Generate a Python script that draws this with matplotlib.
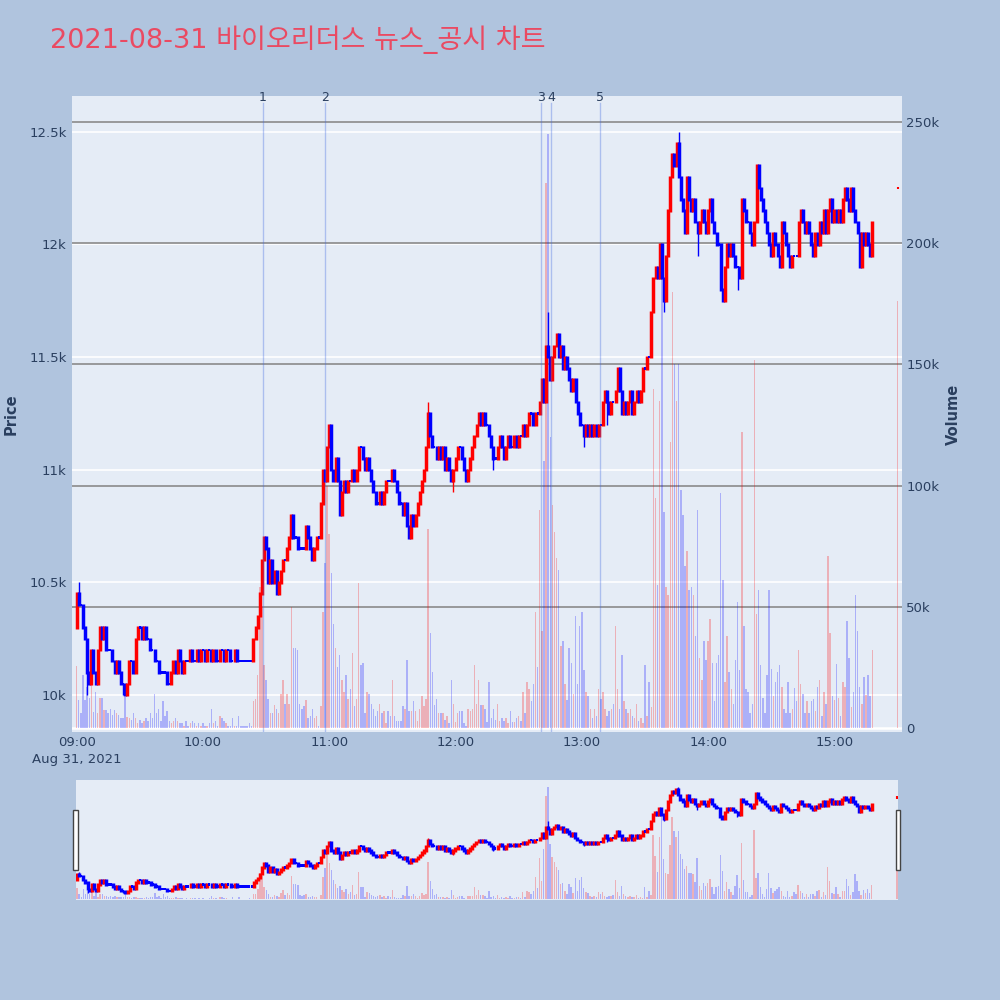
import numpy as np
import matplotlib.pyplot as plt
from matplotlib.collections import LineCollection
from matplotlib.patches import Rectangle
from matplotlib.transforms import blended_transform_factory

plt.rcParams['font.family'] = ['DejaVu Sans', 'Noto Sans CJK KR']

TITLE = '2021-08-31 바이오리더스 뉴스_공시 차트'

# 1-minute candles from 09:00, closes (KRW); open of each bar = previous close
first_open = 10300
closes = [
    10450, 10400, 10400, 10300, 10250, 10100, 10050, 10200, 10100, 10050,
    10200, 10300, 10250, 10300, 10200, 10200, 10200, 10150, 10100, 10150,
    10100, 10050, 10050, 10000, 10050, 10150, 10150, 10100, 10250, 10300,
    10300, 10250, 10300, 10250, 10250, 10200, 10200, 10150, 10150, 10100,
    10100, 10100, 10100, 10050, 10050, 10100, 10150, 10100, 10200, 10150,
    10100, 10150, 10150, 10150, 10200, 10150, 10150, 10200, 10150, 10200,
    10200, 10150, 10200, 10200, 10150, 10200, 10150, 10150, 10200, 10200,
    10150, 10200, 10200, 10150, 10150, 10200, 10150, 10150, 10150, 10150,
    10150, 10150, 10150, 10150, 10250, 10300, 10350, 10450, 10600, 10700,
    10650, 10500, 10600, 10500, 10550, 10450, 10500, 10550, 10600, 10600,
    10650, 10700, 10800, 10700, 10700, 10650, 10650, 10650, 10650, 10750,
    10700, 10650, 10600, 10650, 10700, 10700, 10850, 11000, 10950, 11100,
    11200, 11000, 10950, 11050, 10950, 10800, 10900, 10950, 10900, 10950,
    10950, 11000, 10950, 11000, 11100, 11100, 11050, 11000, 11050, 11000,
    10950, 10900, 10850, 10850, 10900, 10850, 10900, 10950, 10950, 10950,
    11000, 10950, 10900, 10850, 10850, 10800, 10850, 10750, 10700, 10800,
    10750, 10800, 10850, 10900, 10950, 11000, 11100, 11250, 11150, 11100,
    11100, 11050, 11100, 11050, 11100, 11000, 11050, 11000, 10950, 11000,
    11050, 11100, 11100, 11050, 11000, 10950, 11000, 11050, 11100, 11150,
    11200, 11250, 11200, 11250, 11200, 11200, 11150, 11100, 11050, 11050,
    11100, 11150, 11100, 11050, 11100, 11150, 11100, 11100, 11150, 11100,
    11150, 11150, 11200, 11150, 11200, 11250, 11250, 11200, 11250, 11250,
    11300, 11400, 11300, 11550, 11500, 11400, 11500, 11550, 11600, 11500,
    11550, 11450, 11500, 11450, 11400, 11350, 11400, 11300, 11250, 11200,
    11200, 11150, 11200, 11150, 11200, 11150, 11200, 11150, 11200, 11200,
    11300, 11350, 11300, 11250, 11300, 11300, 11350, 11450, 11350, 11250,
    11300, 11250, 11300, 11350, 11250, 11300, 11350, 11300, 11350, 11450,
    11450, 11500, 11500, 11700, 11850, 11900, 11850, 12000, 11850, 11750,
    11950, 12150, 12300, 12400, 12350, 12450, 12300, 12200, 12150, 12050,
    12300, 12200, 12150, 12200, 12100, 12050, 12100, 12150, 12100, 12050,
    12150, 12200, 12100, 12050, 12000, 12000, 11800, 11750, 11900, 12000,
    11950, 12000, 11950, 11900, 11900, 11850, 12200, 12150, 12100, 12100,
    12050, 12000, 12100, 12350, 12250, 12200, 12150, 12100, 12050, 12000,
    11950, 12050, 12000, 11950, 11900, 12100, 12050, 12000, 11950, 11900,
    11950, 11950, 11950, 12100, 12150, 12100, 12050, 12100, 12050, 12000,
    11950, 12050, 12000, 12100, 12050, 12150, 12050, 12150, 12200, 12100,
    12150, 12100, 12150, 12100, 12200, 12250, 12200, 12150, 12250, 12150,
    12100, 12050, 11900, 12050, 12000, 12050, 12000, 11950, 12100,
]

# volume per minute, thousands of shares
volumes_k = [
    25.6, 11.5, 6, 21.8, 11.5, 17, 12.2, 21, 6.7, 15,
    6, 12.2, 12.2, 7.4, 7.4, 6, 8, 5.3, 7.4, 6,
    5.3, 4, 4, 12.9, 4.7, 4, 3.3, 6, 4, 2,
    3.3, 2, 3, 4, 3, 6, 4, 14, 6, 8,
    3, 11, 5, 7, 3, 2, 3, 4, 3, 2,
    2, 1, 3, 1, 2, 3, 2, 1, 2, 1,
    2, 1, 1, 2, 8, 2, 3, 1, 5, 4,
    3, 2, 1, 1, 4, 1, 1, 5, 1, 1,
    1, 1, 2, 1, 11, 12, 22, 58, 50, 26,
    20, 12, 6, 6, 9.5, 8, 6, 14, 20, 10,
    14, 10, 50, 33, 33, 32, 10, 8, 9, 11.5,
    4, 5, 8, 4, 5, 1, 9, 48, 68, 100,
    80, 64, 43, 33, 25, 30, 20, 15, 22, 12,
    16, 31, 9, 12, 60, 26, 27, 6, 15, 14,
    10, 8, 5, 7, 10, 6, 7, 2, 7, 5,
    20, 5, 3, 3, 3, 9, 8, 28, 7, 7,
    11, 7, 3, 8, 13, 9, 12, 82, 39, 23,
    9.5, 12, 6, 6, 6, 3.5, 5, 2, 20, 10,
    2.6, 6, 7, 7, 2, 1, 8, 7, 8, 26,
    10, 20, 9.5, 9.5, 8, 2.6, 19, 4, 8, 3.5,
    10, 3, 4, 3, 4, 2, 7, 2.6, 2.6, 4,
    5, 3, 15, 6, 19, 16, 11, 18, 48, 25,
    90, 40, 110, 225, 245, 120, 92, 81, 70, 65,
    34, 36, 18, 11.5, 33, 27, 14, 46, 18, 42,
    48, 24, 15, 13, 8, 4, 8, 5, 16, 12,
    15, 8, 5, 7, 8, 10, 42, 16, 8, 30,
    11, 8, 6, 8, 5, 4, 10, 3, 4, 2,
    26, 5, 19, 8.5, 140, 95, 59, 135, 190, 89,
    58, 55, 118, 180, 150, 135, 150, 98, 88, 67,
    73, 57, 58, 55, 38, 90, 29, 20, 36, 28,
    36, 45, 27, 11, 27, 30, 97, 61, 19, 38,
    23, 16, 10, 28, 52, 24, 122, 42, 16, 15,
    6, 10, 152, 47, 57, 26, 12.5, 6, 22, 57,
    24.5, 13, 19, 23, 26, 17, 8, 6, 19, 6,
    8, 16.5, 11, 32, 18, 14, 6, 11, 6, 11,
    12, 7, 17, 20, 5, 15, 10, 71, 39, 13,
    11.5, 26.5, 12.5, 5, 19, 17, 44, 29, 8.5, 15,
    55, 40, 17, 10, 21, 13.5, 22, 13, 32,
]

# wick extremes that reach past the bodies (minute index -> price)
high_wicks = {1: 10500, 167: 11300, 224: 11700, 286: 12500}
low_wicks = {5: 10000, 22: 10000, 179: 10900, 198: 11000, 241: 11100,
             252: 11200, 279: 11700, 290: 12050, 295: 11950, 314: 11800}

# closing auction
auction_time = '15:30'
auction_price = 12250
auction_volume_k = 176

news_times = ['10:28:30', '10:58:10', '12:40:50', '12:45:20', '13:08:40']
news_labels = ['1', '2', '3', '4', '5']

hour_labels = ['09:00', '10:00', '11:00', '12:00', '13:00', '14:00', '15:00']
date_label = 'Aug 31, 2021'
price_ticks = [10000, 10500, 11000, 11500, 12000, 12500]
price_tick_labels = ['10k', '10.5k', '11k', '11.5k', '12k', '12.5k']
volume_ticks = [0, 50000, 100000, 150000, 200000, 250000]
volume_tick_labels = ['0', '50k', '100k', '150k', '200k', '250k']

RED = '#ff0000'
BLUE = '#0000ff'
TXT = '#2a3f5f'
PLOT_BG = '#E5ECF6'
PAGE_BG = '#B0C4DE'


def minutes_after_open(t):
    parts = [int(p) for p in t.split(':')]
    while len(parts) < 3:
        parts.append(0)
    return (parts[0] - 9) * 60 + parts[1] + parts[2] / 60.0


c = np.array(closes, dtype=float)
o = np.r_[first_open, c[:-1]]
h = np.maximum(o, c)
l = np.minimum(o, c)
for k, v in high_wicks.items():
    h[k] = max(h[k], v)
for k, v in low_wicks.items():
    l[k] = min(l[k], v)
x = np.arange(len(c), dtype=float)
up = c > o

xa = np.r_[x, minutes_after_open(auction_time)]
oa = np.r_[o, auction_price]
ca = np.r_[c, auction_price]
ha = np.r_[h, auction_price]
la = np.r_[l, auction_price]
upa = np.r_[up, True]
vol = np.r_[volumes_k, auction_volume_k] * 1000

P_LIM = (9836, 12659)
V_LIM = (-1650, 260700)


def draw_candles(ax, height_px, body_lw, wick_lw):
    # outline of plotly boxes adds ~1px above and below each body
    pad = 1.2 * (P_LIM[1] - P_LIM[0]) / height_px
    cols = np.where(upa, RED, BLUE)
    flat = oa == ca
    wicks = [[(xi, lo), (xi, hi)] for xi, lo, hi in zip(xa, la, ha)]
    ax.add_collection(LineCollection(wicks, colors=cols, linewidths=wick_lw, zorder=3))
    bodies = [[(xi, min(oi, ci) - pad), (xi, max(oi, ci) + pad)]
              for xi, oi, ci in zip(xa, oa, ca)]
    widths = np.where(flat, body_lw * 0.6, body_lw)
    ax.add_collection(LineCollection(bodies, colors=cols, linewidths=widths,
                                     capstyle='butt', zorder=4))


def draw_volume(ax):
    ax.bar(xa, vol, width=0.7, color=np.where(upa, 'red', 'blue'), alpha=0.25,
           linewidth=0, zorder=2)


fig = plt.figure(figsize=(10, 10), dpi=100, facecolor=PAGE_BG)

# main chart: volume axis underneath, price axis on top
ax_v = fig.add_axes([0.072, 0.268, 0.830, 0.636], facecolor=PLOT_BG)
ax_p = ax_v.twinx()
for a in (ax_v, ax_p):
    for s in a.spines.values():
        s.set_visible(False)

ax_v.set_xlim(-2.2, 392.1)
ax_v.set_ylim(*V_LIM)
ax_p.set_ylim(*P_LIM)

# price grid (white) sits under everything, volume grid (gray) on top of it
ptrans = blended_transform_factory(ax_v.transAxes, ax_p.transData)
for pt in price_ticks:
    ax_v.plot([0, 1], [pt, pt], transform=ptrans, color='white', lw=1.2, zorder=0.5)
for vt in volume_ticks[1:]:
    ax_v.axhline(vt, color='#8a8a8a', lw=1.2, zorder=1)
ax_v.axhline(0, color='white', lw=1.8, zorder=1)

draw_volume(ax_v)
draw_candles(ax_p, 636, 2.5, 1.0)

ax_v.yaxis.set_ticks_position('right')
ax_v.yaxis.set_label_position('right')
ax_p.yaxis.set_ticks_position('left')
ax_p.yaxis.set_label_position('left')
ax_v.set_yticks(volume_ticks, volume_tick_labels)
ax_p.set_yticks(price_ticks, price_tick_labels)
xt = [minutes_after_open(t) for t in hour_labels]
xl = list(hour_labels)
xl[0] = hour_labels[0] + '\n' + date_label
ax_v.set_xticks(xt, xl)
ax_v.tick_params(axis='both', length=0, colors=TXT, labelsize=9.5, pad=3)
ax_p.tick_params(axis='y', length=0, colors=TXT, labelsize=9.5, pad=4)
for lab in ax_v.get_xticklabels():
    lab.set_linespacing(1.35)

# news / disclosure markers
ntrans = blended_transform_factory(ax_p.transData, ax_p.transAxes)
for t, lab in zip(news_times, news_labels):
    xm = minutes_after_open(t)
    ax_p.plot([xm, xm], [0, 0.989], transform=ntrans, color='royalblue',
              alpha=0.35, lw=1.0, zorder=6)
    ax_p.text(xm, 0.998, lab, transform=ntrans, ha='center', va='center',
              color=TXT, fontsize=9)

fig.text(0.011, 0.586, 'Price', rotation=90, ha='center', va='center',
         color=TXT, fontsize=10.5, fontweight='bold')
fig.text(0.953, 0.586, 'Volume', rotation=90, ha='center', va='center',
         color=TXT, fontsize=10.5, fontweight='bold')
fig.text(0.05, 0.960, TITLE, ha='left', va='center', color='#EA4A62', fontsize=19.5)

# range slider
rs_v = fig.add_axes([0.076, 0.100, 0.822, 0.120], facecolor=PLOT_BG)
rs_p = rs_v.twinx()
for a in (rs_v, rs_p):
    for s in a.spines.values():
        s.set_visible(False)
    a.set_xticks([])
    a.set_yticks([])
rs_v.set_xlim(-0.5, 390.5)
rs_v.set_ylim(*V_LIM)
rs_p.set_ylim(*P_LIM)
draw_volume(rs_v)
draw_candles(rs_p, 120, 2.5, 1.0)

for hx in (0.0733, 0.8960):
    fig.patches.append(Rectangle((hx, 0.130), 0.0044, 0.060, transform=fig.transFigure,
                                 facecolor='white', edgecolor='#444444', lw=1.0))

fig.savefig('out.png', dpi=100, facecolor=PAGE_BG)
